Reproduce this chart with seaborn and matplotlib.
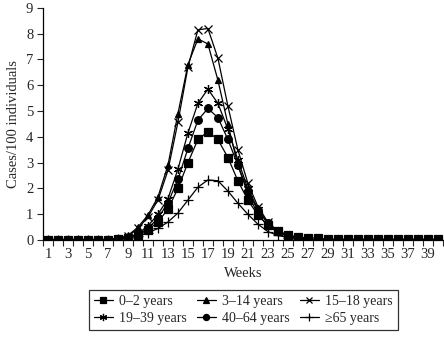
import numpy as np
import pandas as pd
import seaborn as sns
import matplotlib.pyplot as plt

# Weekly influenza-like illness rates per age group (cases/100 individuals)
weeks = list(range(1, 41))
age_groups = ["0\u20132 years", "3\u201314 years", "15\u201318 years",
              "19\u201339 years", "40\u201364 years", "\u226565 years"]

base = [0.02] * 7
tail = [0.02] * 14

rate_0_2 = base + [0.04, 0.1, 0.2, 0.4, 0.7, 1.2, 2.0, 3.0, 3.9, 4.2, 3.9, 3.2, 2.3,
                   1.55, 0.97, 0.58, 0.35, 0.2, 0.12, 0.08, 0.08] + [0.03] * 12
rate_3_14 = base + [0.06, 0.18, 0.5, 0.97, 1.67, 2.9, 4.9, 6.8, 7.8, 7.6, 6.2, 4.5, 2.9,
                    1.8, 1.0, 0.55, 0.3, 0.15, 0.08] + tail
rate_15_18 = base + [0.05, 0.15, 0.45, 0.9, 1.55, 2.7, 4.57, 6.7, 8.15, 8.2, 7.05, 5.2, 3.5,
                     2.2, 1.3, 0.7, 0.35, 0.18, 0.08] + tail
rate_19_39 = base + [0.04, 0.1, 0.25, 0.55, 1.0, 1.6, 2.75, 4.15, 5.3, 5.85, 5.3, 4.3, 3.1,
                     2.0, 1.2, 0.65, 0.35, 0.17, 0.08] + tail
rate_40_64 = base + [0.03, 0.08, 0.22, 0.45, 0.85, 1.45, 2.35, 3.55, 4.65, 5.1, 4.75, 3.9, 2.9,
                     1.9, 1.15, 0.65, 0.35, 0.18, 0.08] + tail
rate_65 = base + [0.03, 0.08, 0.15, 0.28, 0.45, 0.7, 1.05, 1.55, 2.05, 2.33, 2.3, 1.9, 1.43,
                  1.0, 0.62, 0.33, 0.18, 0.1, 0.05] + tail

rates = [rate_0_2, rate_3_14, rate_15_18, rate_19_39, rate_40_64, rate_65]

# long-form table for seaborn
df = pd.DataFrame({
    "week": weeks * len(age_groups),
    "rate": sum(rates, []),
    "group": [g for g in age_groups for _ in weeks],
})

sns.set_style("ticks")
plt.rcParams["font.family"] = ["Liberation Serif", "DejaVu Serif"]

asterisk = (6, 2, 0)
markers = {age_groups[0]: "s", age_groups[1]: "^", age_groups[2]: "x",
           age_groups[3]: asterisk, age_groups[4]: "o", age_groups[5]: "+"}
sizes = {age_groups[0]: 5.5, age_groups[1]: 5, age_groups[2]: 5.5,
         age_groups[3]: 6.5, age_groups[4]: 5.5, age_groups[5]: 6.5}

fig = plt.figure(figsize=(4.44, 3.42), dpi=100)
ax = fig.add_axes([0.097, 0.298, 0.9, 0.679])

for g in age_groups:
    sns.lineplot(data=df[df["group"] == g], x="week", y="rate", ax=ax,
                 color="black", linewidth=0.9, marker=markers[g],
                 markersize=sizes[g], markeredgewidth=0.9,
                 markeredgecolor="black", markerfacecolor="black", label=g)

handles, labels = ax.get_legend_handles_labels()
ax.get_legend().remove()

ax.set_xlim(0.5, 40.5)
ax.set_ylim(0, 9)
ax.set_yticks(range(0, 10))
ax.set_xticks(range(1, 41, 2))
ax.set_xticklabels([str(w) for w in range(1, 41, 2)])
ax.set_xticks(np.arange(0.5, 41, 1), minor=True)
ax.tick_params(axis="x", which="major", length=0, labelsize=10.5, pad=6)
ax.tick_params(axis="x", which="minor", length=4, width=0.8, direction="out")
ax.tick_params(axis="y", length=4, width=0.8, labelsize=10.5, pad=3)
for s in ["left", "bottom"]:
    ax.spines[s].set_linewidth(0.9)
    ax.spines[s].set_color("black")
sns.despine(ax=ax)

ax.set_xlabel("Weeks", fontsize=10.5, labelpad=4)
ax.set_ylabel("Cases/100 individuals", fontsize=10.5, labelpad=4)

# legend laid out row-wise like the original
order = [0, 3, 1, 4, 2, 5]
leg = fig.legend([handles[i] for i in order], [labels[i] for i in order],
                 loc="lower center", bbox_to_anchor=(0.548, 0.015), ncol=3,
                 fontsize=10, frameon=True, fancybox=False, handlelength=1.4,
                 handletextpad=0.45, columnspacing=0.7, borderpad=0.35,
                 labelspacing=0.3, markerscale=0.8)
leg.get_frame().set_edgecolor("black")
leg.get_frame().set_linewidth(0.9)

fig.savefig("out.png", dpi=100)
